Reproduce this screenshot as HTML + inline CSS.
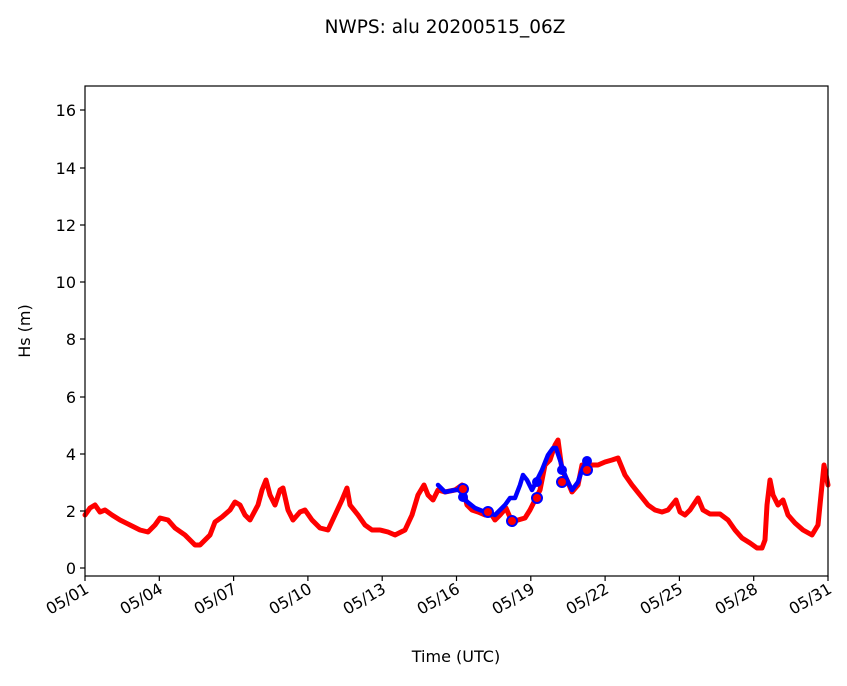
<!DOCTYPE html><html><head><style>body{margin:0;background:#fff}</style></head><body>
<svg width="847" height="681" xmlns="http://www.w3.org/2000/svg" font-family="DejaVu Sans, Liberation Sans, sans-serif">
<rect width="847" height="681" fill="#fff"/>
<text x="445" y="33" font-size="18.5" text-anchor="middle">NWPS: alu 20200515_06Z</text>
<g fill="none" stroke-linejoin="round" stroke-linecap="round">
<polyline stroke="red" stroke-width="5" points="85,515 90,508 95,505 100,512 105,510 112,515 120,520 130,525 140,530 148,532 155,525 160,518 168,520 175,528 185,535 195,545 200,545 205,540 210,535 215,522 222,517 230,510 235,502 240,505 245,515 250,520 258,505 262,490 266,480 270,495 275,505 280,490 283,488 288,510 293,520 300,512 305,510 312,520 320,528 328,530 335,515 342,500 347,488 350,505 358,515 365,525 372,530 380,530 388,532 395,535 405,530 412,515 418,495 424,485 428,495 433,500 438,490 445,492 455,490 462,485 467,505 472,510 478,512 485,515 490,512 495,520 500,515 506,508 512,522 518,520 525,518 530,510 535,500 540,490 545,465 550,460 555,445 558,440 562,470 567,480 572,492 578,485 582,465 586,468 590,465 598,465 605,462 612,460 618,458 625,475 632,485 640,495 648,505 655,510 662,512 668,510 672,505 676,500 680,512 685,515 690,510 698,498 703,510 710,514 720,514 728,520 735,530 742,538 750,543 757,548 762,548 765,540 767,505 770,480 773,495 778,505 783,500 788,515 795,523 803,530 812,535 818,525 821,495 824,465 828,485"/>
<polyline stroke="blue" stroke-width="4.5" points="438,485 445,492 455,490 462,490 465,500 475,508 485,512 495,515 505,505 510,498 515,498 520,485 523,475 527,480 532,490 537,480 542,470 548,455 553,448 556,448 560,460 563,470 567,480 572,490 578,482 582,470 586,462"/>
</g>
<g fill="blue"><circle cx="463" cy="497" r="5"/><circle cx="488" cy="512" r="5"/><circle cx="512" cy="522" r="5"/><circle cx="537" cy="482" r="5"/><circle cx="562" cy="470" r="5"/><circle cx="587" cy="461" r="5"/></g>
<g fill="red" stroke="blue" stroke-width="2"><circle cx="463" cy="489" r="5"/><circle cx="488" cy="512" r="5"/><circle cx="512" cy="521" r="5"/><circle cx="537" cy="498" r="5"/><circle cx="562" cy="482" r="5"/><circle cx="587" cy="470" r="5"/></g>
<rect x="85" y="86" width="743" height="490" fill="none" stroke="#000" stroke-width="1.2"/>
<g stroke="#000" stroke-width="1.2">
<line x1="80" x2="85" y1="568" y2="568"/><line x1="80" x2="85" y1="511" y2="511"/><line x1="80" x2="85" y1="454" y2="454"/><line x1="80" x2="85" y1="397" y2="397"/><line x1="80" x2="85" y1="339" y2="339"/><line x1="80" x2="85" y1="282" y2="282"/><line x1="80" x2="85" y1="225" y2="225"/><line x1="80" x2="85" y1="168" y2="168"/><line x1="80" x2="85" y1="110" y2="110"/>
<line y1="576" y2="581" x1="85" x2="85"/><line y1="576" y2="581" x1="159.3" x2="159.3"/><line y1="576" y2="581" x1="233.6" x2="233.6"/><line y1="576" y2="581" x1="307.9" x2="307.9"/><line y1="576" y2="581" x1="382.2" x2="382.2"/><line y1="576" y2="581" x1="456.5" x2="456.5"/><line y1="576" y2="581" x1="530.8" x2="530.8"/><line y1="576" y2="581" x1="605.1" x2="605.1"/><line y1="576" y2="581" x1="679.4" x2="679.4"/><line y1="576" y2="581" x1="753.7" x2="753.7"/><line y1="576" y2="581" x1="828" x2="828"/>
</g>
<g font-size="16" text-anchor="end">
<text x="76" y="574">0</text><text x="76" y="517">2</text><text x="76" y="460">4</text><text x="76" y="403">6</text><text x="76" y="345">8</text><text x="76" y="288">10</text><text x="76" y="231">12</text><text x="76" y="174">14</text><text x="76" y="116">16</text>
</g>
<g font-size="16" text-anchor="end">
<text transform="translate(90,592) rotate(-30)">05/01</text><text transform="translate(164,592) rotate(-30)">05/04</text><text transform="translate(238,592) rotate(-30)">05/07</text><text transform="translate(313,592) rotate(-30)">05/10</text><text transform="translate(387,592) rotate(-30)">05/13</text><text transform="translate(461,592) rotate(-30)">05/16</text><text transform="translate(536,592) rotate(-30)">05/19</text><text transform="translate(610,592) rotate(-30)">05/22</text><text transform="translate(684,592) rotate(-30)">05/25</text><text transform="translate(759,592) rotate(-30)">05/28</text><text transform="translate(833,592) rotate(-30)">05/31</text>
</g>
<text x="456" y="662" font-size="16" text-anchor="middle">Time (UTC)</text>
<text transform="translate(30,331) rotate(-90)" font-size="16" text-anchor="middle">Hs (m)</text>
</svg></body></html>
